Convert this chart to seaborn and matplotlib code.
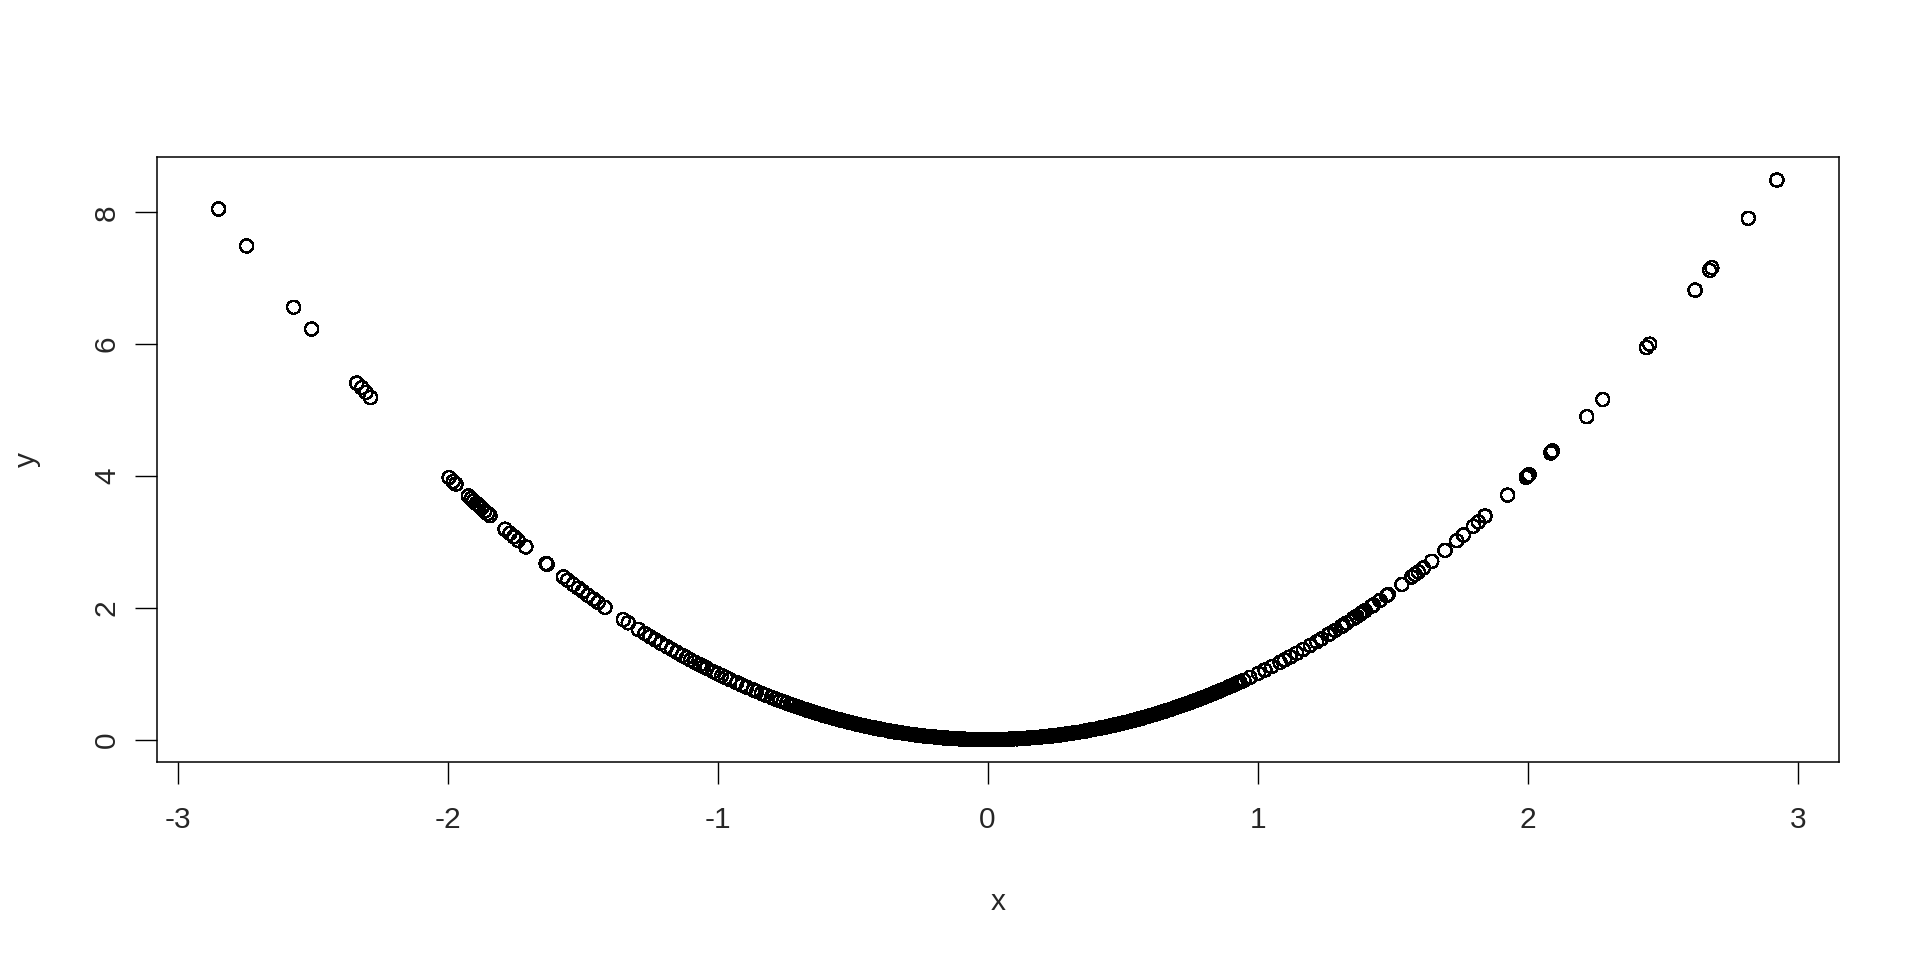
import matplotlib
matplotlib.use("Agg")
import matplotlib.pyplot as plt
import seaborn as sns
import numpy as np

# ========================== DATA ==========================
# sparse left tail
left_tail_x = [-2.848, -2.744, -2.570, -2.503, -2.336, -2.318, -2.302, -2.285]
left_tail_y = [8.05, 7.49, 6.56, 6.23, 5.41, 5.34, 5.27, 5.19]

# left arm, -2 .. -0.74
left_arm_x = [-1.994, -1.979, -1.969, -1.923, -1.912, -1.903, -1.893, -1.884, -1.874,
              -1.862, -1.852, -1.843, -1.787, -1.769, -1.754, -1.738, -1.710, -1.635,
              -1.631, -1.571, -1.555, -1.534, -1.516, -1.500, -1.479, -1.460, -1.442,
              -1.417, -1.349, -1.331, -1.294, -1.269, -1.250, -1.231, -1.210, -1.189,
              -1.170, -1.151, -1.130, -1.115, -1.100, -1.084, -1.065, -1.052, -1.040,
              -1.016, -1.000, -0.985, -0.970, -0.954, -0.929, -0.910, -0.892, -0.868,
              -0.855, -0.837, -0.820, -0.800, -0.785, -0.769, -0.757, -0.744]
left_arm_y = [3.976, 3.916, 3.877, 3.698, 3.656, 3.621, 3.583, 3.549, 3.512,
              3.467, 3.430, 3.397, 3.193, 3.129, 3.077, 3.021, 2.924, 2.673,
              2.660, 2.468, 2.418, 2.353, 2.298, 2.250, 2.187, 2.132, 2.079,
              2.008, 1.820, 1.772, 1.674, 1.610, 1.563, 1.515, 1.464, 1.414,
              1.369, 1.325, 1.277, 1.243, 1.210, 1.175, 1.134, 1.107, 1.082,
              1.032, 1.000, 0.970, 0.941, 0.910, 0.863, 0.828, 0.796, 0.753,
              0.731, 0.701, 0.672, 0.640, 0.616, 0.591, 0.573, 0.554]

# dense band around the bottom of the curve
core_x = [-0.731, -0.716, -0.702, -0.688, -0.671, -0.657, -0.642, -0.628, -0.611, -0.597,
          -0.582, -0.566, -0.553, -0.537, -0.522, -0.506, -0.491, -0.477, -0.462, -0.446,
          -0.431, -0.417, -0.401, -0.386, -0.372, -0.356, -0.341, -0.327, -0.311, -0.296,
          -0.282, -0.266, -0.251, -0.236, -0.221, -0.207, -0.192, -0.176, -0.161, -0.147,
          -0.131, -0.116, -0.102, -0.086, -0.071, -0.056, -0.041, -0.026, -0.011, 0.004,
          0.019, 0.034, 0.049, 0.064, 0.079, 0.094, 0.109, 0.124, 0.139, 0.154,
          0.169, 0.184, 0.199, 0.214, 0.229, 0.244, 0.259, 0.274, 0.289, 0.304,
          0.319, 0.334, 0.349, 0.364, 0.379, 0.394, 0.409, 0.424, 0.439, 0.454,
          0.469, 0.484, 0.499, 0.514, 0.529, 0.544, 0.559, 0.574, 0.589, 0.604,
          0.619, 0.634, 0.649, 0.664, 0.679, 0.694, 0.709, 0.724, 0.739, 0.754,
          0.769, 0.784, 0.799, 0.814, 0.829, 0.844, 0.859, 0.874, 0.889, 0.904,
          0.919, 0.934, 0.949]
core_y = [0.534, 0.513, 0.493, 0.473, 0.450, 0.432, 0.412, 0.394, 0.373, 0.356,
          0.339, 0.320, 0.306, 0.288, 0.272, 0.256, 0.241, 0.228, 0.213, 0.199,
          0.186, 0.174, 0.161, 0.149, 0.138, 0.127, 0.116, 0.107, 0.097, 0.088,
          0.080, 0.071, 0.063, 0.056, 0.049, 0.043, 0.037, 0.031, 0.026, 0.022,
          0.017, 0.013, 0.010, 0.007, 0.005, 0.003, 0.002, 0.001, 0.000, 0.000,
          0.000, 0.001, 0.002, 0.004, 0.006, 0.009, 0.012, 0.015, 0.019, 0.024,
          0.029, 0.034, 0.040, 0.046, 0.052, 0.060, 0.067, 0.075, 0.084, 0.092,
          0.102, 0.112, 0.122, 0.132, 0.144, 0.155, 0.167, 0.180, 0.193, 0.206,
          0.220, 0.234, 0.249, 0.264, 0.280, 0.296, 0.312, 0.329, 0.347, 0.365,
          0.383, 0.402, 0.421, 0.441, 0.461, 0.482, 0.503, 0.524, 0.546, 0.569,
          0.591, 0.615, 0.638, 0.663, 0.687, 0.712, 0.738, 0.764, 0.790, 0.817,
          0.845, 0.872, 0.901]

# extra points where the band is solid black
core2_x = [-0.724, -0.695, -0.664, -0.635, -0.604, -0.574, -0.545, -0.514, -0.484, -0.454,
           -0.424, -0.393, -0.364, -0.334, -0.304, -0.274, -0.244, -0.214, -0.184, -0.154,
           -0.124, -0.094, -0.064, -0.034, -0.004, 0.027, 0.057, 0.087, 0.117, 0.147,
           0.177, 0.207, 0.237, 0.267, 0.297, 0.327, 0.357, 0.387, 0.417, 0.447,
           0.477, 0.507, 0.537, 0.567, 0.597, 0.627, 0.657, 0.687, 0.717, 0.747,
           0.777, 0.807, 0.837, 0.867, 0.897, 0.927]
core2_y = [0.524, 0.483, 0.441, 0.403, 0.365, 0.329, 0.297, 0.264, 0.234, 0.206,
           0.180, 0.154, 0.132, 0.112, 0.092, 0.075, 0.060, 0.046, 0.034, 0.024,
           0.015, 0.009, 0.004, 0.001, 0.000, 0.001, 0.003, 0.008, 0.014, 0.022,
           0.031, 0.043, 0.056, 0.071, 0.088, 0.107, 0.127, 0.150, 0.174, 0.200,
           0.228, 0.257, 0.288, 0.321, 0.356, 0.393, 0.432, 0.472, 0.514, 0.558,
           0.604, 0.651, 0.701, 0.752, 0.805, 0.859]

# right arm, 0.97 .. 1.93
right_arm_x = [0.971, 1.003, 1.027, 1.052, 1.083, 1.100, 1.120, 1.145, 1.169, 1.195,
               1.219, 1.237, 1.262, 1.268, 1.287, 1.311, 1.317, 1.330, 1.354, 1.367,
               1.379, 1.385, 1.398, 1.423, 1.429, 1.453, 1.478, 1.484, 1.534, 1.571,
               1.583, 1.595, 1.614, 1.645, 1.694, 1.737, 1.762, 1.799, 1.817, 1.842,
               1.926]
right_arm_y = [0.943, 1.006, 1.055, 1.107, 1.173, 1.210, 1.254, 1.311, 1.367, 1.428,
               1.486, 1.530, 1.593, 1.608, 1.656, 1.719, 1.734, 1.769, 1.833, 1.869,
               1.902, 1.918, 1.954, 2.025, 2.042, 2.111, 2.184, 2.202, 2.353, 2.468,
               2.506, 2.544, 2.605, 2.706, 2.870, 3.017, 3.105, 3.236, 3.302, 3.393,
               3.709]

# sparse right tail
right_tail_x = [1.995, 2.000, 2.005, 2.086, 2.092, 2.219, 2.278, 2.440, 2.452,
                2.620, 2.674, 2.682, 2.817, 2.923]
right_tail_y = [3.98, 4.00, 4.02, 4.35, 4.38, 4.90, 5.16, 5.95, 6.00,
                6.82, 7.12, 7.16, 7.91, 8.49]

x_ticks = [-3, -2, -1, 0, 1, 2, 3]
y_ticks = [0, 2, 4, 6, 8]

x = np.array(left_tail_x + left_arm_x + core_x + core2_x + right_arm_x + right_tail_x)
y = np.array(left_tail_y + left_arm_y + core_y + core2_y + right_arm_y + right_tail_y)

# ========================== PLOT ==========================
sns.set_style("ticks")
plt.rcParams['font.family'] = ['Liberation Sans', 'DejaVu Sans']

fig = plt.figure(figsize=(19.2, 9.6), dpi=100)
ax = fig.add_axes([157 / 1920, 1 - 762 / 960, (1839 - 157) / 1920, (762 - 157) / 960])

# crisp, non-antialiased rings like the R png device
sns.scatterplot(x=x, y=y, ax=ax, marker="o", s=88,
                facecolor="none", edgecolor="black", linewidth=1.0,
                antialiased=False)

ax.set_xlim(-3.076, 3.153)
ax.set_ylim(-0.34, 8.84)

for side in ['top', 'right', 'bottom', 'left']:
    ax.spines[side].set_visible(True)
    ax.spines[side].set_color('black')
    ax.spines[side].set_linewidth(1.1)

ax.set_xticks(x_ticks)
ax.set_xticklabels([str(t) for t in x_ticks])
ax.set_yticks(y_ticks)
ax.set_yticklabels([str(t) for t in y_ticks], rotation=90, va='center')
ax.tick_params(axis='x', length=16, width=1, pad=16, labelsize=21.5, color='black')
ax.tick_params(axis='y', length=16, width=1, pad=10, labelsize=21.5, color='black')

ax.set_xlabel("x", fontsize=21.5)
ax.xaxis.set_label_coords(0.5, -0.2314)
ax.xaxis.label.set_va('center')
ax.set_ylabel("y", fontsize=21.5)
ax.yaxis.set_label_coords(-0.0773, 0.5)
ax.yaxis.label.set_va('center')

fig.savefig("out.png", dpi=100, facecolor="white")
